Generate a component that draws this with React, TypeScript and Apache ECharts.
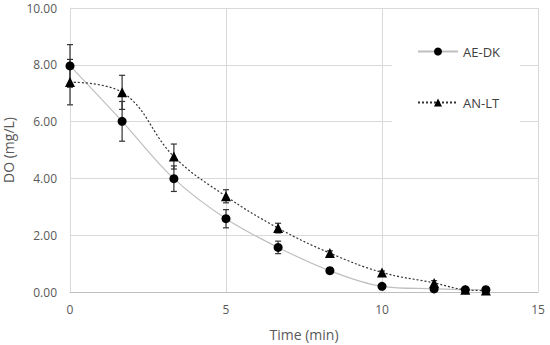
import React, { useEffect, useRef } from "react";
import * as echarts from "echarts";

const times = [0, 1.67, 3.33, 5, 6.67, 8.33, 10, 11.67, 12.67, 13.33];
const aeDk = [7.96, 6.01, 3.99, 2.58, 1.57, 0.75, 0.2, 0.11, 0.08, 0.08];
const aeDkErr = [0.75, 0.7, 0.45, 0.32, 0.22, 0.1, 0.04, 0.06, 0.03, 0.03];
const anLt = [7.39, 7.03, 4.77, 3.37, 2.25, 1.37, 0.69, 0.32, 0.08, 0.05];
const anLtErr = [0.8, 0.6, 0.44, 0.23, 0.17, 0.08, 0.05, 0.08, 0.03, 0.03];
const xTicks = [0, 5, 10, 15];
const yTicks = [0, 2, 4, 6, 8, 10];

const FONT = "'Open Sans', 'Noto Sans', sans-serif";

function errorRender(params: any, api: any) {
  const x = api.value(0);
  const y = api.value(1);
  const e = api.value(2);
  const top = api.coord([x, y + e]);
  const bot = api.coord([x, y - e]);
  const w = 3;
  const style = { stroke: "#333333", lineWidth: 1.2 };
  return {
    type: "group",
    children: [
      { type: "line", shape: { x1: top[0], y1: top[1], x2: bot[0], y2: bot[1] }, style },
      { type: "line", shape: { x1: top[0] - w, y1: top[1], x2: top[0] + w, y2: top[1] }, style },
      { type: "line", shape: { x1: bot[0] - w, y1: bot[1], x2: bot[0] + w, y2: bot[1] }, style },
    ],
  };
}

export default function App() {
  const ref = useRef<HTMLDivElement>(null);
  useEffect(() => {
    if (!ref.current) return;
    const chart = echarts.init(ref.current, null, { renderer: "svg" });
    const aeData = times.map((t, i) => [t, aeDk[i]]);
    const anData = times.map((t, i) => [t, anLt[i]]);
    const aeErrData = times.map((t, i) => [t, aeDk[i], aeDkErr[i]]);
    const anErrData = times.map((t, i) => [t, anLt[i], anLtErr[i]]);
    chart.setOption({
      animation: false,
      backgroundColor: "#ffffff",
      textStyle: { fontFamily: FONT },
      grid: { left: 70, right: 12, top: 8, bottom: 53, outerBoundsMode: "none", containLabel: false },
      legend: {
        data: ["AE-DK", "AN-LT"],
        orient: "vertical",
        left: 392,
        top: 30,
        padding: [15, 20, 15, 25],
        backgroundColor: "#ffffff",
        itemWidth: 40,
        itemHeight: 10,
        itemGap: 38,
        textStyle: { fontFamily: FONT, fontSize: 13, color: "#404040" },
      },
      xAxis: {
        type: "value",
        min: xTicks[0],
        max: xTicks[xTicks.length - 1],
        interval: 5,
        name: "Time (min)",
        nameLocation: "middle",
        nameGap: 35,
        nameTextStyle: { fontFamily: FONT, fontSize: 14, color: "#595959" },
        axisLine: { show: true, lineStyle: { color: "#bfbfbf", width: 1 } },
        axisTick: { show: false },
        axisLabel: { fontFamily: FONT, fontSize: 12, color: "#595959", margin: 11 },
        splitLine: { show: true, lineStyle: { color: "#d9d9d9", width: 1 } },
      },
      yAxis: {
        type: "value",
        min: yTicks[0],
        max: yTicks[yTicks.length - 1],
        interval: 2,
        name: "DO (mg/L)",
        nameLocation: "middle",
        nameGap: 50,
        nameTextStyle: { fontFamily: FONT, fontSize: 14, color: "#595959" },
        axisLine: { show: true, lineStyle: { color: "#d9d9d9", width: 1 } },
        axisTick: { show: false },
        axisLabel: {
          fontFamily: FONT,
          fontSize: 12,
          color: "#595959",
          margin: 13,
          formatter: (v: number) => v.toFixed(2),
        },
        splitLine: { show: true, lineStyle: { color: "#d9d9d9", width: 1 } },
      },
      series: [
        {
          name: "errAE",
          type: "custom",
          renderItem: errorRender,
          data: aeErrData,
          encode: { x: 0, y: 1 },
          z: 3,
          silent: true,
        },
        {
          name: "errAN",
          type: "custom",
          renderItem: errorRender,
          data: anErrData,
          encode: { x: 0, y: 1 },
          z: 3,
          silent: true,
        },
        {
          name: "AE-DK",
          type: "line",
          data: aeData,
          smooth: 0.35,
          symbol: "circle",
          symbolSize: 9,
          itemStyle: { color: "#000000" },
          lineStyle: { color: "#bfbfbf", width: 1.2 },
          z: 5,
        },
        {
          name: "AN-LT",
          type: "line",
          data: anData,
          smooth: 0.4,
          symbol: "triangle",
          symbolSize: 10,
          itemStyle: { color: "#000000" },
          lineStyle: { color: "#333333", width: 1.2, type: [2, 2] },
          z: 5,
        },
      ],
    });
    return () => chart.dispose();
  }, []);
  return (
    <div
      ref={ref}
      style={{ position: "fixed", left: 0, top: 0, width: 550, height: 345 }}
    />
  );
}
